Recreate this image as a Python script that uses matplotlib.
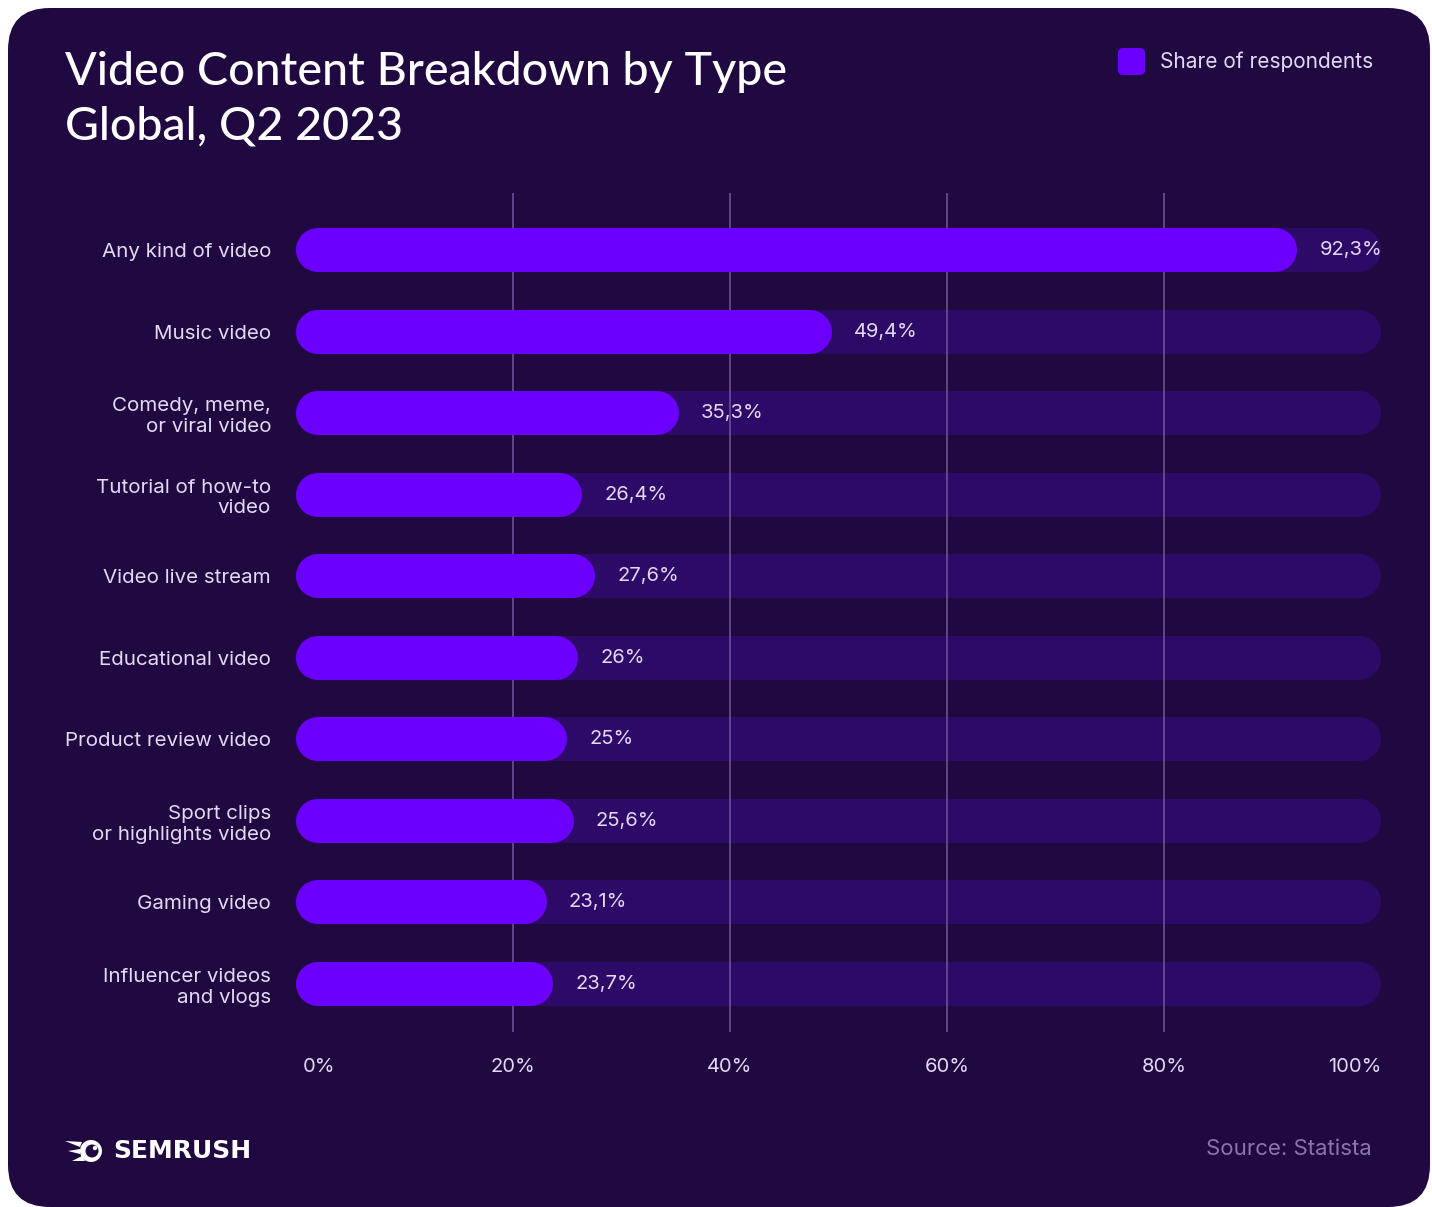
import matplotlib
matplotlib.use("Agg")
import matplotlib.pyplot as plt
from matplotlib.patches import FancyBboxPatch, Circle, Polygon
import matplotlib.transforms as mtransforms

# ---- data ----
categories = ["Any kind of video", "Music video", "Comedy, meme,\nor viral video",
              "Tutorial of how-to\nvideo", "Video live stream", "Educational video",
              "Product review video", "Sport clips\nor highlights video", "Gaming video",
              "Influencer videos\nand vlogs"]
values = [92.3, 49.4, 35.3, 26.4, 27.6, 26, 25, 25.6, 23.1, 23.7]
xticks = [0, 20, 40, 60, 80, 100]
xtick_labels = ["0%", "20%", "40%", "60%", "80%", "100%"]
legend_label = "Share of respondents"
title_lines = ["Video Content Breakdown by Type", "Global, Q2 2023"]
source_text = "Source: Statista"

# ---- style ----
CARD = "#200940"
TRACK = "#2e0a68"
BAR = "#6c00ff"
GRID = "#6a5294"
TXT = "#e4d9f5"
SRC = "#8a76ab"
FONT = ["Inter", "DejaVu Sans"]
plt.rcParams["font.family"] = FONT

W, H = 1432, 1207
fig = plt.figure(figsize=(W / 100, H / 100), dpi=100)
fig.patch.set_facecolor("white")

bg = fig.add_axes([0, 0, 1, 1])
bg.set_xlim(0, W)
bg.set_ylim(H, 0)
bg.axis("off")
bg.add_patch(FancyBboxPatch((8, 8), 1422, H - 8,
                            boxstyle="round,pad=0,rounding_size=42",
                            fc=CARD, ec="none"))

# title
for line, yy in zip(title_lines, [72, 127]):
    bg.text(65, yy, line, color="white", fontsize=33.5, fontweight="medium",
            family=["Lato", "DejaVu Sans"], va="center", ha="left")

# legend
bg.add_patch(FancyBboxPatch((1118, 48), 27, 27, boxstyle="round,pad=0,rounding_size=5",
                            fc=BAR, ec="none"))
bg.text(1160, 62, legend_label, color=TXT, fontsize=15, va="center", ha="left")

# source
bg.text(1372, 1149, source_text, color=SRC, fontsize=16, va="center", ha="right")

# logo
bg.add_patch(Circle((91, 1151), 11, fc="white", ec="none"))
bg.add_patch(Circle((92, 1151), 6.5, fc=CARD, ec="none"))
bg.add_patch(Circle((95, 1148), 2.2, fc="white", ec="none"))
bg.add_patch(Polygon([(65, 1141), (82, 1142), (80, 1147)], closed=True, fc="white", ec="none"))
bg.add_patch(Polygon([(68, 1151), (80, 1149), (80, 1154)], closed=True, fc="white", ec="none"))
bg.add_patch(Polygon([(72, 1161), (82, 1156), (85, 1161)], closed=True, fc="white", ec="none"))
bg.text(113, 1151, "SEMRUSH", color="white", fontsize=18, fontweight="bold",
        family=["DejaVu Sans"], va="center", ha="left")

# ---- main axes ----
n = len(categories)
ax = fig.add_axes([296 / W, (H - 1032) / H, 1085 / W, 839 / H])
ax.set_facecolor("none")
ax.set_xlim(0, 100)
ax.set_ylim(n - 1 + 0.59, -0.70)
for s in ax.spines.values():
    s.set_visible(False)

fig.canvas.draw()
h = 0.54
p0 = ax.transData.transform((0, 0))
p1 = ax.transData.transform((1, 1))
px_x = abs(p1[0] - p0[0])
px_y = abs(p1[1] - p0[1])
h_px = h * px_y
r_x = (h_px / 2) / px_x          # cap radius in x data units
lw_pt = h_px * 72 / fig.dpi

for i, v in enumerate(values):
    ax.plot([r_x, 100 - r_x], [i, i], color=TRACK, lw=lw_pt,
            solid_capstyle="round", zorder=1)
    ax.plot([r_x, v - r_x], [i, i], color=BAR, lw=lw_pt,
            solid_capstyle="round", zorder=3)

for t in xticks[1:-1]:
    ax.axvline(t, color=GRID, lw=1.2, zorder=2)

off = mtransforms.offset_copy(ax.transData, fig=fig, x=22, y=0, units="dots")
for i, v in enumerate(values):
    lab = f"{v:g}".replace(".", ",") + "%"
    ax.text(v, i, lab, transform=off, color=TXT, fontsize=14.5, va="center", ha="left", zorder=4)

ax.set_yticks(range(n))
ax.set_yticklabels(categories, color=TXT, fontsize=14.8, ha="right")
ax.tick_params(axis="y", length=0, pad=18)

ax.set_xticks([])
xt = ax.get_xaxis_transform()
for t, lab in zip(xticks, xtick_labels):
    ha = "center"
    dx = 0
    if t == xticks[0]:
        ha, dx = "left", 0.6
    elif t == xticks[-1]:
        ha, dx = "right", 0
    ax.text(t + dx, -35 / 839, lab, transform=xt, color=TXT, fontsize=14.5,
            ha=ha, va="center")

fig.savefig("out.png", dpi=100, facecolor=fig.get_facecolor())
